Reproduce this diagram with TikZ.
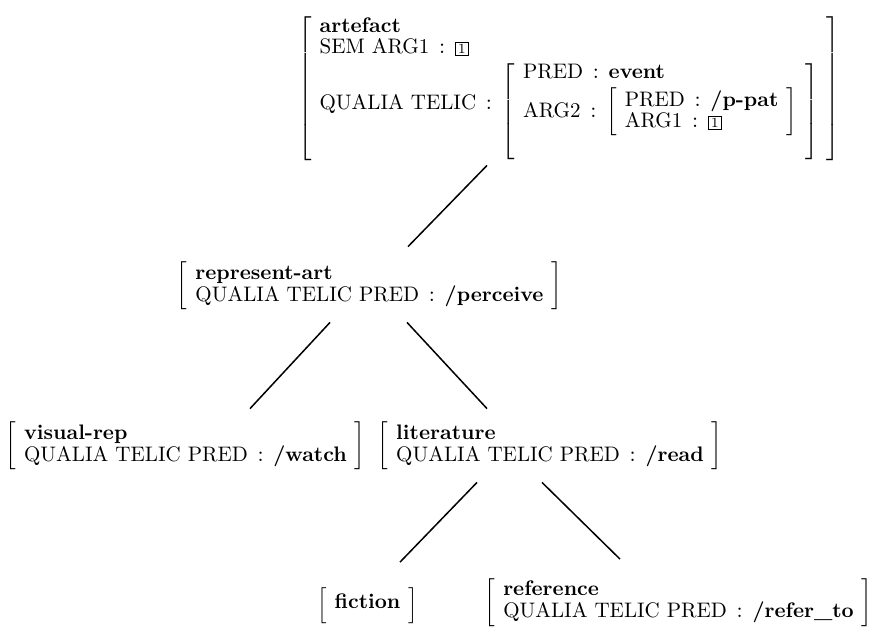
\documentclass[tikz,border=0pt]{standalone}
\usetikzlibrary{calc}
\newcommand{\fs}[1]{\left[\begin{array}{@{\hspace{4pt}}l@{\hspace{4pt}}}#1\end{array}\right]}
\newcommand{\tagbox}[1]{\mbox{\fboxsep=0.8pt\fboxrule=0.5pt\fbox{\makebox[4.4pt]{\scriptsize #1}}}}
\newcommand{\feat}[1]{\mbox{#1}}
\newcommand{\val}[1]{\mbox{\bfseries #1}}
\newcommand{\is}{\mathrel{\,:\,}}
\renewcommand{\arraystretch}{0.85}
\begin{document}
\begin{tikzpicture}[x=0.5pt,y=0.5pt]
    \tikzset{avmbox/.style={inner sep=0pt,font=\fontsize{10.5}{12}\selectfont},
             branch/.style={line width=0.75pt}}
    \useasboundingbox (0,0) rectangle (871,-629);
    % type hierarchy, one AVM per type
    \node[avmbox] (artefact) at (569,-89) {$\fs{\val{artefact}\\
        \feat{SEM ARG1} \is \tagbox{1}\\[2pt]
        \feat{QUALIA TELIC} \is \raisebox{-4pt}{$\fs{\feat{PRED} \is \val{event}\\[2pt]
            \feat{ARG2} \is \fs{\feat{PRED} \is \val{/p-pat}\\ \feat{ARG1} \is \tagbox{1}}\\
            \rule{0pt}{9pt}}$}}$};
    \node[avmbox] (repart) at (369.5,-286) {$\fs{\val{represent-art}\\ \feat{QUALIA TELIC PRED} \is \val{/perceive}}$};
    \node[avmbox] (visrep) at (185.5,-446) {$\fs{\val{visual-rep}\\ \feat{QUALIA TELIC PRED} \is \val{/watch}}$};
    \node[avmbox] (lit) at (550,-446) {$\fs{\val{literature}\\ \feat{QUALIA TELIC PRED} \is \val{/read}}$};
    \node[avmbox] (fiction) at (367.5,-605.5) {$\delimitershortfall=0pt\fs{\rule[-7.5pt]{0pt}{17.5pt}\val{fiction}}$};
    \node[avmbox] (reference) at (678.5,-602.5) {$\fs{\val{reference}\\ \feat{QUALIA TELIC PRED} \is \val{/refer\_to}}$};
    % branches
    \draw[branch] ($(artefact.south)+(-82,-4)$) -- ($(repart.north)+(38.5,15)$);
    \draw[branch] ($(repart.south)+(-39.5,-12)$) -- ($(visrep.north)+(64.5,13)$);
    \draw[branch] ($(repart.south)+(37.5,-12)$) -- ($(lit.north)+(-63,13)$);
    \draw[branch] ($(lit.south)+(-73,-12)$) -- ($(fiction.north)+(32.5,25)$);
    \draw[branch] ($(lit.south)+(-8,-12)$) -- ($(reference.north)+(-58.5,19)$);
\end{tikzpicture}
\end{document}
